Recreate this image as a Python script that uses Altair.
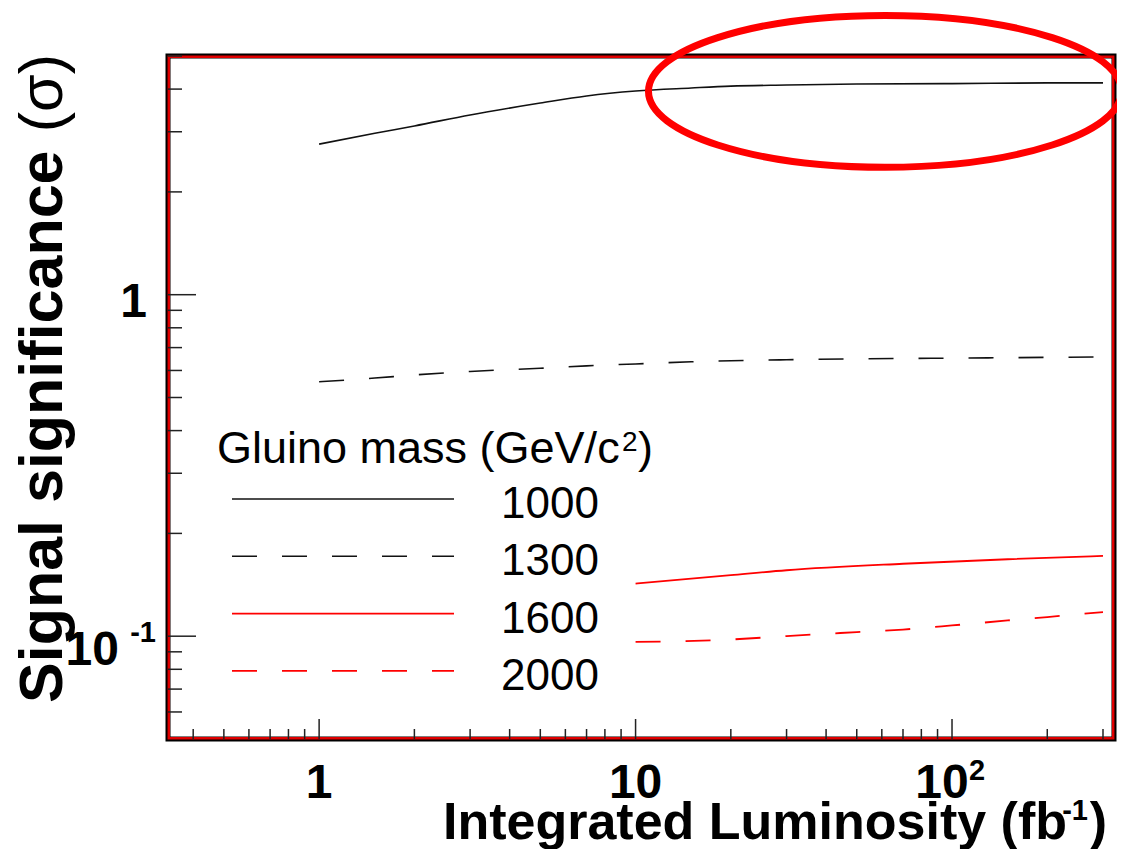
import altair as alt
import pandas as pd

# ---------------- data ----------------
series_names = ["1000", "1300", "1600", "2000"]

lumi_1000 = [1, 1.5, 2, 3, 5, 7, 10, 15, 20, 30, 50, 100, 200, 300]
sig_1000 = [2.76, 2.97, 3.12, 3.36, 3.64, 3.82, 3.95, 4.03, 4.08, 4.11, 4.14, 4.15, 4.17, 4.17]

lumi_1300 = [1, 1.5, 2, 3, 5, 7, 10, 15, 30, 100, 300]
sig_1300 = [0.556, 0.570, 0.582, 0.596, 0.609, 0.619, 0.627, 0.636, 0.645, 0.652, 0.657]

lumi_1600 = [10, 20, 30, 70, 150, 300]
sig_1600 = [0.1426, 0.151, 0.156, 0.163, 0.168, 0.1718]

lumi_2000 = [10, 20, 30, 50, 70, 100, 150, 200, 300]
sig_2000 = [0.0962, 0.0978, 0.1001, 0.1028, 0.1046, 0.1075, 0.1112, 0.1138, 0.1177]

x_major = [1, 10, 100]
x_minor = [0.4, 0.5, 0.6, 0.7, 0.8, 0.9, 2, 3, 4, 5, 6, 7, 8, 9,
           20, 30, 40, 50, 60, 70, 80, 90, 200, 300]
y_major = [0.1, 1]
y_minor = [0.06, 0.07, 0.08, 0.09, 0.2, 0.3, 0.4, 0.5, 0.6, 0.7, 0.8, 0.9,
           2, 3, 4, 5]

x_label_base = ["1", "10"]
x_label_base_vals = [1, 10]
x_exp_label_val = [100]
y_label_val = [1]
y_exp_label_val = [0.1]

highlight_lumi = [61.4]
highlight_sig = [3.94]

legend_title = "Gluino mass (GeV/c"
x_title = "Integrated Luminosity (fb"
y_title = "Signal significance"

# ---------------- styling ----------------
W, H = 946, 683
FONT = "Liberation Sans"
x_scale = alt.Scale(type="log", domain=[0.333, 325], nice=False)
y_scale = alt.Scale(type="log", domain=[0.05, 5], nice=False)
BLACK = "#111111"
RED = "#ff0000"
one = pd.DataFrame({"a": [0]})

styles = [
    (lumi_1000, sig_1000, BLACK, None, 1.6),
    (lumi_1300, sig_1300, BLACK, [25, 25], 1.6),
    (lumi_1600, sig_1600, RED, None, 1.8),
    (lumi_2000, sig_2000, RED, [25, 25], 1.8),
]

layers = []

# frame
layers.append(alt.Chart(one).mark_rect(fillOpacity=0, stroke="#000000", strokeWidth=5).encode(
    x=alt.value(0), x2=alt.value(W), y=alt.value(0), y2=alt.value(H)))
layers.append(alt.Chart(one).mark_rect(fillOpacity=0, stroke="#e00000", strokeWidth=2.5).encode(
    x=alt.value(0.8), x2=alt.value(W - 0.8), y=alt.value(0.8), y2=alt.value(H - 0.8)))

# ticks
def xticks(vals, length):
    return alt.Chart(pd.DataFrame({"v": vals})).mark_rule(color="#222222", strokeWidth=1.5).encode(
        x=alt.X("v:Q", scale=x_scale, axis=None), y=alt.value(H), y2=alt.value(H - length))

def yticks(vals, length):
    return alt.Chart(pd.DataFrame({"v": vals})).mark_rule(color="#222222", strokeWidth=1.5).encode(
        y=alt.Y("v:Q", scale=y_scale, axis=None), x=alt.value(0), x2=alt.value(length))

layers += [xticks(x_major, 20), xticks(x_minor, 10), yticks(y_major, 28), yticks(y_minor, 14)]

# series
for (lumi, sig, color, dash, sw) in styles:
    df = pd.DataFrame({"lumi": lumi, "sig": sig})
    kw = dict(color=color, strokeWidth=sw, interpolate="monotone")
    if dash:
        kw["strokeDash"] = dash
    layers.append(alt.Chart(df).mark_line(**kw).encode(
        x=alt.X("lumi:Q", scale=x_scale, axis=None),
        y=alt.Y("sig:Q", scale=y_scale, axis=None),
        order="lumi:Q"))

# highlight ellipse
ELLIPSE = "M -1 0 A 1 0.321 0 1 0 1 0 A 1 0.321 0 1 0 -1 0 Z"
layers.append(alt.Chart(pd.DataFrame({"lumi": highlight_lumi, "sig": highlight_sig})).mark_point(
    shape=ELLIPSE, size=473 ** 2, filled=False, stroke=RED, color=RED, strokeWidth=7, opacity=1).encode(
    x=alt.X("lumi:Q", scale=x_scale, axis=None), y=alt.Y("sig:Q", scale=y_scale, axis=None)))

# x tick labels
layers.append(alt.Chart(pd.DataFrame({"v": x_label_base_vals, "t": x_label_base})).mark_text(
    font=FONT, fontWeight="bold", fontSize=48, align="center", baseline="alphabetic", color="#000").encode(
    x=alt.X("v:Q", scale=x_scale, axis=None), y=alt.value(H + 59), text="t:N"))
layers.append(alt.Chart(pd.DataFrame({"v": x_exp_label_val})).mark_text(
    text="10", font=FONT, fontWeight="bold", fontSize=48, align="center", baseline="alphabetic",
    dx=-10, color="#000").encode(x=alt.X("v:Q", scale=x_scale, axis=None), y=alt.value(H + 59)))
layers.append(alt.Chart(pd.DataFrame({"v": x_exp_label_val})).mark_text(
    text="2", font=FONT, fontWeight="bold", fontSize=29, align="left", baseline="alphabetic",
    dx=17, color="#000").encode(x=alt.X("v:Q", scale=x_scale, axis=None), y=alt.value(H + 41)))

# y tick labels
layers.append(alt.Chart(pd.DataFrame({"v": y_label_val})).mark_text(
    text="1", font=FONT, fontWeight="bold", fontSize=48, align="right", baseline="alphabetic",
    dy=22, color="#000").encode(y=alt.Y("v:Q", scale=y_scale, axis=None), x=alt.value(-21)))
layers.append(alt.Chart(pd.DataFrame({"v": y_exp_label_val})).mark_text(
    text="10", font=FONT, fontWeight="bold", fontSize=48, align="right", baseline="alphabetic",
    dy=29, color="#000").encode(y=alt.Y("v:Q", scale=y_scale, axis=None), x=alt.value(-49)))
layers.append(alt.Chart(pd.DataFrame({"v": y_exp_label_val})).mark_text(
    text="-1", font=FONT, fontWeight="bold", fontSize=29, align="right", baseline="alphabetic",
    dy=6, color="#000").encode(y=alt.Y("v:Q", scale=y_scale, axis=None), x=alt.value(-12)))

# axis titles
TB = 783
layers.append(alt.Chart(one).mark_text(text=x_title, font=FONT, fontWeight="bold", fontSize=52,
    align="right", baseline="alphabetic", color="#000").encode(x=alt.value(899), y=alt.value(TB)))
layers.append(alt.Chart(one).mark_text(text="-1", font=FONT, fontWeight="bold", fontSize=29,
    align="right", baseline="alphabetic", color="#000").encode(x=alt.value(920), y=alt.value(TB - 19)))
layers.append(alt.Chart(one).mark_text(text=")", font=FONT, fontWeight="bold", fontSize=52,
    align="right", baseline="alphabetic", color="#000").encode(x=alt.value(939), y=alt.value(TB)))

layers.append(alt.Chart(one).mark_text(text=y_title, font=FONT, fontWeight="bold", fontSize=61,
    angle=270, align="left", baseline="alphabetic", color="#000").encode(x=alt.value(-106), y=alt.value(647)))
layers.append(alt.Chart(one).mark_text(text="(σ)", font=FONT, fontSize=61,
    angle=270, align="right", baseline="alphabetic", color="#000").encode(x=alt.value(-106), y=alt.value(-2)))

# legend
layers.append(alt.Chart(one).mark_text(text=legend_title, font=FONT, fontSize=45,
    align="left", baseline="alphabetic", color="#000").encode(x=alt.value(49), y=alt.value(407)))
layers.append(alt.Chart(one).mark_text(text="2", font=FONT, fontSize=28,
    align="left", baseline="alphabetic", color="#000").encode(x=alt.value(454), y=alt.value(395)))
layers.append(alt.Chart(one).mark_text(text=")", font=FONT, fontSize=45,
    align="left", baseline="alphabetic", color="#000").encode(x=alt.value(470), y=alt.value(407)))
for i, (name, st) in enumerate(zip(series_names, styles)):
    _, _, color, dash, sw = st
    ly = 443 + 57.3 * i
    kw = dict(color=color, strokeWidth=sw)
    if dash:
        kw["strokeDash"] = dash
    layers.append(alt.Chart(one).mark_rule(**kw).encode(
        x=alt.value(64), x2=alt.value(286), y=alt.value(ly)))
    layers.append(alt.Chart(one).mark_text(text=name, font=FONT, fontSize=44,
        align="left", baseline="alphabetic", color="#000").encode(x=alt.value(333), y=alt.value(ly + 19)))

chart = alt.layer(*layers).properties(
    width=W, height=H,
    autosize=alt.AutoSizeParams(type="none"),
    padding={"left": 160, "top": 48, "right": 3, "bottom": 110},
    background="white",
).configure_view(strokeWidth=0)

chart.save("out.html", embed_options={"renderer": "svg", "actions": False})
